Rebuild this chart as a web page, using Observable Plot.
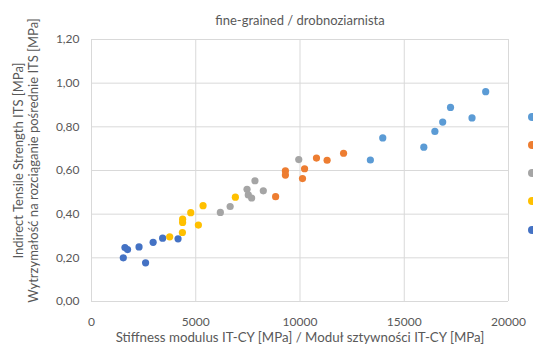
<!DOCTYPE html>
<html>
<head>
<meta charset="utf-8">
<script src="https://cdn.jsdelivr.net/npm/d3@7"></script>
<script src="https://cdn.jsdelivr.net/npm/@observablehq/plot@0.6"></script>
<style>
  html, body { margin: 0; padding: 0; background: #fff; overflow: hidden; }
  #wrap { position: relative; width: 533px; height: 350px; overflow: hidden; }
  .sw { position: absolute; width: 8px; height: 8px; border-radius: 50%; left: 528px; }
</style>
</head>
<body>
<div id="wrap"></div>
<script>
const title = "fine-grained / drobnoziarnista";
const xLabel = "Stiffness modulus IT-CY [MPa] / Moduł sztywności IT-CY [MPa]";
const yLabel1 = "Indirect Tensile Strength ITS [MPa]";
const yLabel2 = "Wytrzymałość na rozciąganie pośrednie ITS [MPa]";
const xTicks = [0, 5000, 10000, 15000, 20000];
const yTicks = [0, 0.2, 0.4, 0.6, 0.8, 1.0, 1.2];

const seriesNames = ["S1", "S2", "S3", "S4", "S5"];
const seriesColors = ["#4472C4", "#ED7D31", "#A5A5A5", "#FFC000", "#5B9BD5"];
const legendOrder = ["S5", "S2", "S3", "S4", "S1"];

// S1 dark blue
const s1x = [1525, 1604, 1730, 2280, 2594, 2956, 3412, 4151];
const s1y = [0.200, 0.247, 0.238, 0.250, 0.177, 0.271, 0.290, 0.287];
// S2 orange
const s2x = [8830, 9300, 9300, 10220, 10120, 10790, 11300, 12090];
const s2y = [0.480, 0.598, 0.579, 0.608, 0.563, 0.657, 0.647, 0.679];
// S3 gray
const s3x = [6180, 6650, 7460, 7520, 7680, 7840, 8240, 9940];
const s3y = [0.408, 0.435, 0.514, 0.488, 0.474, 0.553, 0.507, 0.650];
// S4 yellow
const s4x = [3750, 4360, 4370, 4370, 4760, 5126, 5350, 6900];
const s4y = [0.296, 0.316, 0.362, 0.377, 0.407, 0.350, 0.439, 0.478];
// S5 light blue
const s5x = [13375, 13969, 15938, 16469, 16844, 17219, 18250, 18906];
const s5y = [0.648, 0.749, 0.707, 0.779, 0.822, 0.889, 0.841, 0.961];

const xs = [s1x, s2x, s3x, s4x, s5x];
const ys = [s1y, s2y, s3y, s4y, s5y];
const data = [];
seriesNames.forEach((s, i) => xs[i].forEach((x, j) => data.push({series: s, x, y: ys[i][j]})));

const font = "Lato, 'Open Sans', sans-serif";
const fmtY = d => d.toFixed(2).replace(".", ",");

const chart = Plot.plot({
  width: 533,
  height: 350,
  marginLeft: 91,
  marginRight: 25,
  marginTop: 39,
  marginBottom: 49,
  style: { fontFamily: font, fontSize: "12px", color: "#595959", background: "#fff" },
  x: { domain: [0, 20000], label: null },
  y: { domain: [0, 1.2], label: null },
  color: { domain: seriesNames, range: seriesColors },
  marks: [
    Plot.gridX(xTicks, { stroke: "#d9d9d9", strokeOpacity: 1, strokeWidth: 1 }),
    Plot.gridY(yTicks, { stroke: "#d9d9d9", strokeOpacity: 1, strokeWidth: 1 }),
    Plot.axisX({ ticks: xTicks, tickSize: 0, tickPadding: 16, tickFormat: d => String(d), label: null, fill: "#595959", fontSize: 12 }),
    Plot.axisY({ ticks: yTicks, tickSize: 0, tickPadding: 12, tickFormat: fmtY, label: null, fill: "#595959", fontSize: 12 }),
    Plot.dot(data, { x: "x", y: "y", fill: "series", r: 3.6, stroke: "none" }),
    Plot.text([title], { frameAnchor: "top", dy: -24, fontSize: 13, fill: "#595959", fontFamily: font }),
    Plot.text([xLabel], { frameAnchor: "bottom", dy: 40, fontSize: 13.3, fill: "#595959", fontFamily: font }),
    Plot.text([yLabel1], { frameAnchor: "left", textAnchor: "middle", dx: -73, dy: -10, rotate: -90, fontSize: 13, fill: "#595959", fontFamily: font }),
    Plot.text([yLabel2], { frameAnchor: "left", textAnchor: "middle", dx: -58, dy: -10, rotate: -90, fontSize: 13, fill: "#595959", fontFamily: font })
  ]
});
const wrap = document.getElementById("wrap");
wrap.appendChild(chart);

// legend swatches (labels fall outside the visible crop)
legendOrder.forEach((s, i) => {
  const d = document.createElement("div");
  d.className = "sw";
  d.style.top = (112.5 + i * 28.3) + "px";
  d.style.background = seriesColors[seriesNames.indexOf(s)];
  wrap.appendChild(d);
});
</script>
</body>
</html>
